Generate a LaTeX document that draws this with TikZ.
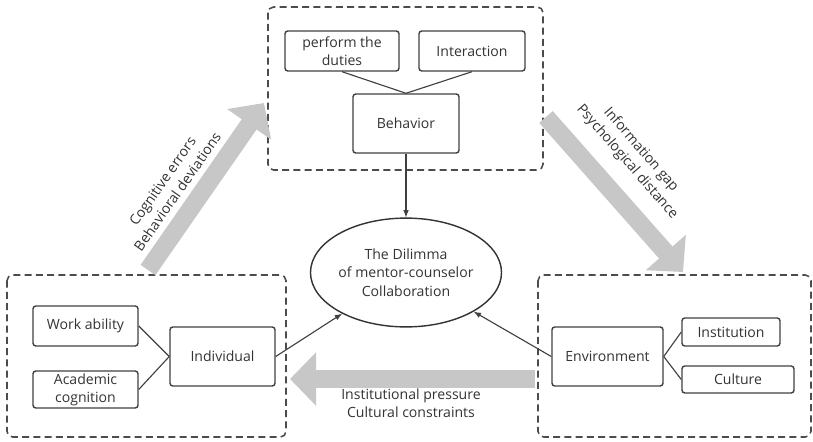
\documentclass[tikz,border=0pt]{standalone}
\usepackage{fontspec}
\setmainfont{Open Sans}
\usepackage{tikz}
\usetikzlibrary{shapes.geometric, arrows, arrows.meta}

\tikzset{
    box/.style={draw=black!75, line width=1pt, rounded corners=2pt, align=center, text=black!80, inner sep=1pt},
    group/.style={draw=black!70, line width=1.1pt, dashed, dash pattern=on 5pt off 3pt, rounded corners=4pt},
    link/.style={draw=black!75, line width=0.8pt},
    flow/.style={line width=0.45cm, color=black!22, -{Triangle[length=0.65cm, width=1.3cm]}},
    tag/.style={align=center, text=black!80}
}

\begin{document}
\begin{tikzpicture}[x=0.025cm, y=-0.025cm, font=\fontsize{10}{13}\selectfont]
        \useasboundingbox (0,0) rectangle (813,441);
        % dashed groups
        \draw[group] (268,7) rectangle (543,170);
        \draw[group] (7,275) rectangle (286,437);
        \draw[group] (538,275) rectangle (811,437);
        % grey flows
        \coordinate (up0) at (148,270);
        \coordinate (up1) at (264,103);
        \coordinate (dn0) at (546,117);
        \coordinate (dn1) at (683,272);
        \coordinate (lf0) at (535,379);
        \coordinate (lf1) at (290,379);
        \draw[flow] (up0) -- (up1);
        \draw[flow] (dn0) -- (dn1);
        \draw[flow] (lf0) -- (lf1);
        \node[tag, rotate=55] (cogtext) at (170,186.5) {Cognitive errors\\Behavioral deviations};
        \node[tag, rotate=-49] (gaptext) at (634,156) {Information gap\\Psychological distance};
        \node[tag] (prestext) at (411,403) {Institutional pressure\\Cultural constraints};
        % boxes
        \node[box, minimum width=2.85cm, minimum height=1cm] (perform) at (342,51) {perform the\\duties};
        \node[box, minimum width=2.65cm, minimum height=1cm] (interact) at (472,51) {Interaction};
        \node[box, minimum width=2.65cm, minimum height=1.475cm] (behavior) at (406,123.5) {Behavior};
        \node[box, minimum width=2.625cm, minimum height=1cm] (work) at (85.5,326) {Work ability};
        \node[box, minimum width=2.625cm, minimum height=0.925cm] (academic) at (85.5,389.5) {Academic\\cognition};
        \node[box, minimum width=2.625cm, minimum height=1.475cm] (individual) at (222.5,356.5) {Individual};
        \node[box, minimum width=2.775cm, minimum height=1.475cm] (environment) at (607.5,356.5) {Environment};
        \node[box, minimum width=2.45cm, minimum height=0.7cm] (institution) at (731,332) {Institution};
        \node[box, minimum width=2.8cm, minimum height=0.675cm] (culture) at (738,379.5) {Culture};
        \node[ellipse, draw=black!80, line width=1pt, align=center, text=black!80, inner sep=0pt,
            minimum width=4.25cm, minimum height=2.72cm] (dilemma) at (406,272.5)
            {The Dilimma\\of mentor-counselor\\Collaboration};
        % links
        \draw[link] (perform.south) -- (behavior.north);
        \draw[link] (interact.south) -- (behavior.north);
        \draw[link] (work.east) -- (individual.west);
        \draw[link] (academic.east) -- (individual.west);
        \draw[link] (environment.east) -- (institution.west);
        \draw[link] (environment.east) -- (culture.west);
        \draw[link, -latex] (behavior.south) -- (dilemma.north);
        \draw[link, -latex] (individual.east) -- (dilemma);
        \draw[link, -latex] (environment.west) -- (dilemma);
    \end{tikzpicture}
\end{document}
